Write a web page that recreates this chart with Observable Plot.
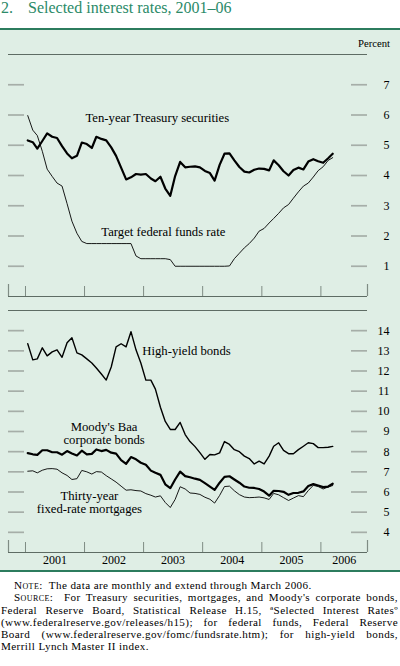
<!DOCTYPE html>
<html>
<head>
<meta charset="utf-8">
<script src="https://cdn.jsdelivr.net/npm/d3@7"></script>
<script src="https://cdn.jsdelivr.net/npm/@observablehq/plot@0.6"></script>
<style>
  body { margin: 0; background: #fff; width: 400px; height: 666px; position: relative; overflow: hidden;
         font-family: "Liberation Serif", "Times New Roman", serif; color: #000; }
  #title { position: absolute; left: 0; top: 0; width: 400px; height: 20px; font-size: 16px; line-height: 16px; color: #2b8a68; }
  #title .num { position: absolute; left: 1px; top: 0; }
  #title .txt { position: absolute; left: 28px; top: 0; white-space: nowrap; }
  #rule1 { position: absolute; left: 0; top: 28px; width: 400px; height: 2px; background: #2c7c5e; }
  #panel { position: absolute; left: 0; top: 30px; width: 400px; height: 540px; background: #dfeee5; }
  #rule2 { position: absolute; left: 0; top: 570px; width: 400px; height: 2px; background: #2c7c5e; }
  #percent { position: absolute; right: 10px; top: 37px; font-size: 10.7px; line-height: 13px; }
  #top, #bottom { position: absolute; left: 0; width: 400px; }
  #top { top: 40px; }
  #bottom { top: 305px; }
  #notes { position: absolute; left: 1px; top: 579px; width: 397px; font-size: 11.1px; letter-spacing: 0.4px; line-height: 12.3px; }
  #notes div { white-space: nowrap; height: 12.3px; }
  #notes .j { text-align: justify; text-align-last: justify; }
  #notes .ind { padding-left: 13px; }
  .sc { font-variant: small-caps; }
</style>
</head>
<body>
<div id="title"><span class="num">2.</span><span class="txt">Selected interest rates, 2001–06</span></div>
<div id="rule1"></div>
<div id="panel"></div>
<div id="rule2"></div>
<div id="percent">Percent</div>
<div id="top"></div>
<div id="bottom"></div>
<div id="notes">
  <div class="ind"><span class="sc">Note</span>:&nbsp; The data are monthly and extend through March 2006.</div>
  <div class="ind j"><span class="sc">Source</span>:&nbsp; For Treasury securities, mortgages, and Moody's corporate bonds,</div>
  <div class="j">Federal Reserve Board, Statistical Release H.15, ªSelected Interest Ratesº</div>
  <div class="j">(www.federalreserve.gov/releases/h15); for federal funds, Federal Reserve</div>
  <div class="j">Board (www.federalreserve.gov/fomc/fundsrate.htm); for high-yield bonds,</div>
  <div>Merrill Lynch Master II index.</div>
</div>
<script>
// ---- Data (monthly, Jan 2001 – Mar 2006) ----
const tenYear = [
  5.16, 5.10, 4.89, 5.14, 5.39, 5.28, 5.24, 4.97, 4.73, 4.57, 4.65, 5.09,
  5.04, 4.91, 5.28, 5.21, 5.16, 4.93, 4.65, 4.26, 3.87, 3.94, 4.05, 4.03,
  4.05, 3.90, 3.81, 3.96, 3.57, 3.33, 3.98, 4.45, 4.27, 4.29, 4.30, 4.27,
  4.15, 4.08, 3.83, 4.35, 4.72, 4.73, 4.50, 4.28, 4.13, 4.10, 4.19, 4.23,
  4.22, 4.17, 4.50, 4.34, 4.14, 4.00, 4.18, 4.26, 4.20, 4.46, 4.54, 4.47,
  4.42, 4.57, 4.72
];
const fedFunds = [
  5.98, 5.50, 5.32, 4.80, 4.21, 3.97, 3.75, 3.65, 3.07, 2.49, 2.09, 1.82,
  1.75, 1.75, 1.75, 1.75, 1.75, 1.75, 1.75, 1.75, 1.75, 1.75, 1.34, 1.25,
  1.25, 1.25, 1.25, 1.25, 1.25, 1.22, 1.00, 1.00, 1.00, 1.00, 1.00, 1.00,
  1.00, 1.00, 1.00, 1.00, 1.00, 1.01, 1.25, 1.43, 1.61, 1.75, 1.93, 2.16,
  2.25, 2.43, 2.58, 2.75, 2.93, 3.04, 3.25, 3.46, 3.65, 3.75, 3.95, 4.16,
  4.29, 4.50, 4.59
];
const highYield = [
  13.35, 12.55, 12.60, 13.15, 12.75, 12.95, 13.05, 12.68, 13.40, 13.65, 12.90, 12.80,
  12.60, 12.40, 12.15, 11.85, 11.55, 12.20, 13.20, 13.35, 13.20, 13.95, 13.05, 12.40,
  11.55, 11.55, 11.10, 10.20, 9.50, 9.10, 9.10, 9.45, 8.85, 8.50, 8.25, 7.95,
  7.62, 7.86, 7.84, 7.94, 8.50, 8.36, 8.10, 8.00, 7.78, 7.66, 7.39, 7.53,
  7.39, 7.78, 8.27, 8.44, 8.06, 7.90, 7.90, 8.10, 8.27, 8.44, 8.40, 8.20,
  8.20, 8.22, 8.26
];
const baa = [
  7.93, 7.87, 7.84, 8.07, 8.07, 7.97, 7.97, 7.85, 8.03, 7.91, 7.81, 8.05,
  7.87, 7.89, 8.11, 8.03, 8.09, 7.95, 7.90, 7.58, 7.40, 7.73, 7.62, 7.45,
  7.35, 7.06, 6.95, 6.85, 6.38, 6.19, 6.62, 7.01, 6.79, 6.73, 6.66, 6.60,
  6.44, 6.27, 6.11, 6.46, 6.75, 6.78, 6.62, 6.46, 6.27, 6.21, 6.20, 6.15,
  6.02, 5.82, 6.06, 6.05, 6.01, 5.86, 5.95, 5.96, 6.03, 6.30, 6.39, 6.32,
  6.24, 6.27, 6.41
];
const mortgage = [
  7.03, 7.05, 6.95, 7.08, 7.15, 7.16, 7.13, 6.95, 6.82, 6.62, 6.66, 7.07,
  7.00, 6.89, 7.01, 6.99, 6.81, 6.65, 6.49, 6.29, 6.09, 6.11, 6.07, 6.05,
  5.92, 5.84, 5.75, 5.81, 5.48, 5.23, 5.63, 6.26, 6.15, 5.95, 5.93, 5.88,
  5.74, 5.64, 5.45, 5.83, 6.27, 6.29, 6.06, 5.87, 5.75, 5.72, 5.73, 5.75,
  5.71, 5.63, 5.93, 5.86, 5.72, 5.58, 5.70, 5.82, 5.77, 6.07, 6.33, 6.27,
  6.15, 6.25, 6.32
];
const years = [2001, 2002, 2003, 2004, 2005, 2006];
const topTicks = [1, 2, 3, 4, 5, 6, 7];
const bottomTicks = [4, 5, 6, 7, 8, 9, 10, 11, 12, 13, 14];
const topLabels = [
  {text: "Ten-year Treasury securities", date: "2002-01-07", value: 5.89},
  {text: "Target federal funds rate", date: "2002-04-15", value: 2.13}
];
const startLabels = [
  {text: "High-yield bonds", date: "2002-12-24", value: 13.0}
];
const centerLabels = [
  {text: "Moody's Baa\ncorporate bonds", date: "2002-05-02", value: 8.89},
  {text: "Thirty-year\nfixed-rate mortgages", date: "2002-01-31", value: 5.50}
];

// ---- Build tables ----
const months = d3.range(tenYear.length).map(i => new Date(Date.UTC(2001, i, 15)));
const series = (arr) => arr.map((v, i) => ({date: months[i], value: v}));
const xDomain = [new Date(Date.UTC(2000, 8, 18)), new Date(Date.UTC(2006, 9, 16))];
const yearStarts = years.map(y => new Date(Date.UTC(y, 0, 1)));
const yearMids = years.map(y => {
  const a = new Date(Date.UTC(y, 0, 1));
  const b = new Date(Math.min(Date.UTC(y + 1, 0, 1), +xDomain[1]));
  return {year: String(y), date: new Date((+a + +b) / 2)};
});
const parseLab = (L) => L.map(d => ({...d, date: new Date(d.date + "T00:00:00Z")}));

const frameGray = "#5e6c64";
const yearTick = "#7f8c84";
const dashGray = "#a6aea8";
const W = 400, ML = 8, MR = 33, PW = W - ML - MR;
const labelSize = 12.7;
const font = {background: "transparent", fontFamily: "'Liberation Serif', 'Times New Roman', serif", fontSize: "12px", color: "#000", overflow: "visible"};

function yDashes(ticks) {
  return [
    Plot.ruleY(ticks, {stroke: dashGray, strokeWidth: 1.7, insetRight: PW - 16}),
    Plot.ruleY(ticks, {stroke: dashGray, strokeWidth: 1.7, insetLeft: PW - 16}),
    Plot.text(ticks, {y: d => d, text: d => String(d), frameAnchor: "right", dx: 22, textAnchor: "end", fontSize: 12, fill: "#000"})
  ];
}
function xTicks(plotH) {
  return [
    Plot.ruleX(yearStarts, {stroke: yearTick, strokeWidth: 1, insetTop: plotH - 10}),
    Plot.ruleX(xDomain, {stroke: yearTick, strokeWidth: 1.2, insetTop: plotH - 12})
  ];
}

const topH = 265, topMT = 14, topMB = 9;
const topPlot = Plot.plot({
  width: W, height: topH, marginTop: topMT, marginBottom: topMB, marginLeft: ML, marginRight: MR,
  style: font,
  x: {type: "utc", domain: xDomain, axis: null},
  y: {domain: [0, 8], axis: null},
  marks: [
    ...yDashes(topTicks),
    Plot.ruleY([8], {stroke: frameGray, strokeWidth: 1.2}),
    Plot.ruleY([0], {stroke: frameGray, strokeWidth: 1.2}),
    ...xTicks(topH - topMT - topMB),
    Plot.line(series(fedFunds), {x: "date", y: "value", stroke: "#000", strokeWidth: 0.9}),
    Plot.line(series(tenYear), {x: "date", y: "value", stroke: "#000", strokeWidth: 2.2}),
    Plot.text(parseLab(topLabels), {x: "date", y: "value", text: "text", textAnchor: "start", fontSize: labelSize, fill: "#000"})
  ]
});
document.getElementById("top").appendChild(topPlot);

const botH = 270, botMT = 5, botMB = 23;
const bottomPlot = Plot.plot({
  width: W, height: botH, marginTop: botMT, marginBottom: botMB, marginLeft: ML, marginRight: MR,
  style: font,
  x: {type: "utc", domain: xDomain, axis: null},
  y: {domain: [3, 15], axis: null},
  marks: [
    ...yDashes(bottomTicks),
    Plot.ruleY([15], {stroke: frameGray, strokeWidth: 1.2}),
    Plot.ruleY([3], {stroke: frameGray, strokeWidth: 1.2}),
    ...xTicks(botH - botMT - botMB),
    Plot.line(series(mortgage), {x: "date", y: "value", stroke: "#000", strokeWidth: 0.9}),
    Plot.line(series(baa), {x: "date", y: "value", stroke: "#000", strokeWidth: 2.2}),
    Plot.line(series(highYield), {x: "date", y: "value", stroke: "#000", strokeWidth: 1.4}),
    Plot.text(parseLab(startLabels), {x: "date", y: "value", text: "text", textAnchor: "start", fontSize: labelSize, fill: "#000"}),
    Plot.text(parseLab(centerLabels), {x: "date", y: "value", text: "text", textAnchor: "middle", lineHeight: 1.0, fontSize: labelSize, fill: "#000"}),
    Plot.text(yearMids, {x: "date", text: "year", frameAnchor: "bottom", dy: 11, fontSize: 12, fill: "#000"})
  ]
});
document.getElementById("bottom").appendChild(bottomPlot);
</script>
</body>
</html>
